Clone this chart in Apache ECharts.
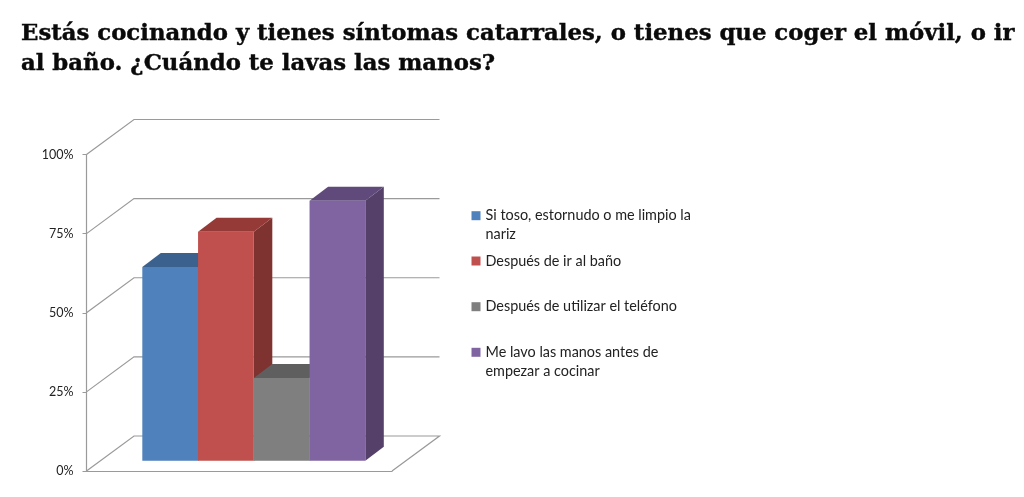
<!DOCTYPE html>
<html>
<head>
<meta charset="utf-8">
<script src="https://cdn.jsdelivr.net/npm/echarts@6/dist/echarts.min.js"></script>
<style>html,body{margin:0;padding:0;background:#fff}#c{width:1024px;height:497px}</style>
</head>
<body>
<div id="c"></div>
<script>
const titleLines = ['Estás cocinando y tienes síntomas catarrales, o tienes que coger el móvil, o ir', 'al baño. ¿Cuándo te lavas las manos?'];
const categories = ['Si toso, estornudo o me limpio la\nnariz', 'Después de ir al baño', 'Después de utilizar el teléfono', 'Me lavo las manos antes de\nempezar a cocinar'];
const values = [61.2, 72.3, 26.1, 82.1];
const yTicks = [0, 25, 50, 75, 100];
const frontColors = ['#4f81bd', '#c0504d', '#7f7f7f', '#8064a2'];
const topColors = ['#3b618f', '#953a37', '#5f5f5f', '#604a7b'];
const sideColors = ['#37577f', '#7f3330', '#555555', '#544069'];
const legendTops = [187.2, 251.5, 297.2, 323.8];

const wall = {dx: 47.5, dy: 35};
const inset = {dx: 14, dy: 10.3};
const depth = {dx: 18.5, dy: 14};
const xMin = -1.25, xMax = 4.23;
const lineColor = '#9a9a9a';

function barSeries(name, i) {
  return {
    name, type: 'custom', z: 3, clip: false,
    itemStyle: {color: frontColors[i]},
    encode: {x: 0, y: 1},
    data: [[i, values[i]]],
    renderItem(params, api) {
      const c = api.value(0), v = api.value(1);
      const a = api.coord([c - 0.5, 0]), b = api.coord([c + 0.5, v]);
      const x0 = a[0] + inset.dx, x1 = b[0] + inset.dx, y0 = a[1] - inset.dy, y1 = b[1] - inset.dy;
      const poly = (pts, fill) => ({type: 'polygon', shape: {points: pts}, style: {fill}});
      return {type: 'group', children: [
        poly([[x1, y1], [x1 + depth.dx, y1 - depth.dy], [x1 + depth.dx, y0 - depth.dy], [x1, y0]], sideColors[i]),
        poly([[x0, y1], [x0 + depth.dx, y1 - depth.dy], [x1 + depth.dx, y1 - depth.dy], [x1, y1]], topColors[i]),
        poly([[x0, y0], [x1, y0], [x1, y1], [x0, y1]], frontColors[i])
      ]};
    }
  };
}

const gridSeries = {
  name: 'grid', type: 'custom', z: 1, silent: true, clip: false,
  encode: {y: 0},
  data: yTicks.map(v => [v]),
  renderItem(params, api) {
    const v = api.value(0);
    const p = api.coord([xMin, v]), q = api.coord([xMax, v]);
    const stroke = {stroke: lineColor, lineWidth: 1.2, fill: 'none'};
    const pts = [p, [p[0] + wall.dx, p[1] - wall.dy], [q[0] + wall.dx, q[1] - wall.dy]];
    if (v === 0) pts.push(q);
    return {type: 'polyline', shape: {points: pts}, style: stroke};
  }
};

const legends = categories.map((name, i) => ({
  left: 471.5, top: legendTops[i], orient: 'vertical', icon: 'rect',
  itemWidth: 9, itemHeight: 9, itemGap: 0, selectedMode: false, padding: 0,
  // a leading blank line centres the marker on the first line of a wrapped entry
  formatter: n => (n.includes('\n') ? '\n' + n : n),
  textStyle: {fontFamily: 'Lato', fontSize: 14.4, lineHeight: 19, color: '#222'},
  data: [name]
}));

const chart = echarts.init(document.getElementById('c'), null, {renderer: 'canvas'});
chart.setOption({
  animation: false,
  backgroundColor: '#fff',
  title: {
    text: titleLines.join('\n'), left: 21, top: 19, padding: 0,
    textStyle: {fontFamily: 'DejaVu Serif', fontWeight: 'bold', fontSize: 22.8, lineHeight: 30, color: '#0a0a0a', textBorderColor: '#0a0a0a', textBorderWidth: 0.4}
  },
  legend: legends,
  grid: {left: 86.5, top: 154.5, width: 305.5, height: 316.5, containLabel: false},
  xAxis: {
    type: 'value', min: xMin, max: xMax, splitLine: {show: false},
    axisLabel: {show: false}, axisTick: {show: false},
    axisLine: {show: true, onZero: false, lineStyle: {color: lineColor, width: 1.2}}
  },
  yAxis: {
    type: 'value', min: 0, max: 100, interval: 25, splitLine: {show: false},
    axisLine: {show: true, onZero: false, lineStyle: {color: lineColor, width: 1.2}},
    axisTick: {show: true, length: 4, lineStyle: {color: lineColor}},
    axisLabel: {formatter: '{value}%', fontFamily: 'Lato', fontSize: 12.5, color: '#222', margin: 13}
  },
  series: [gridSeries].concat(categories.map(barSeries))
});
</script>
</body>
</html>
